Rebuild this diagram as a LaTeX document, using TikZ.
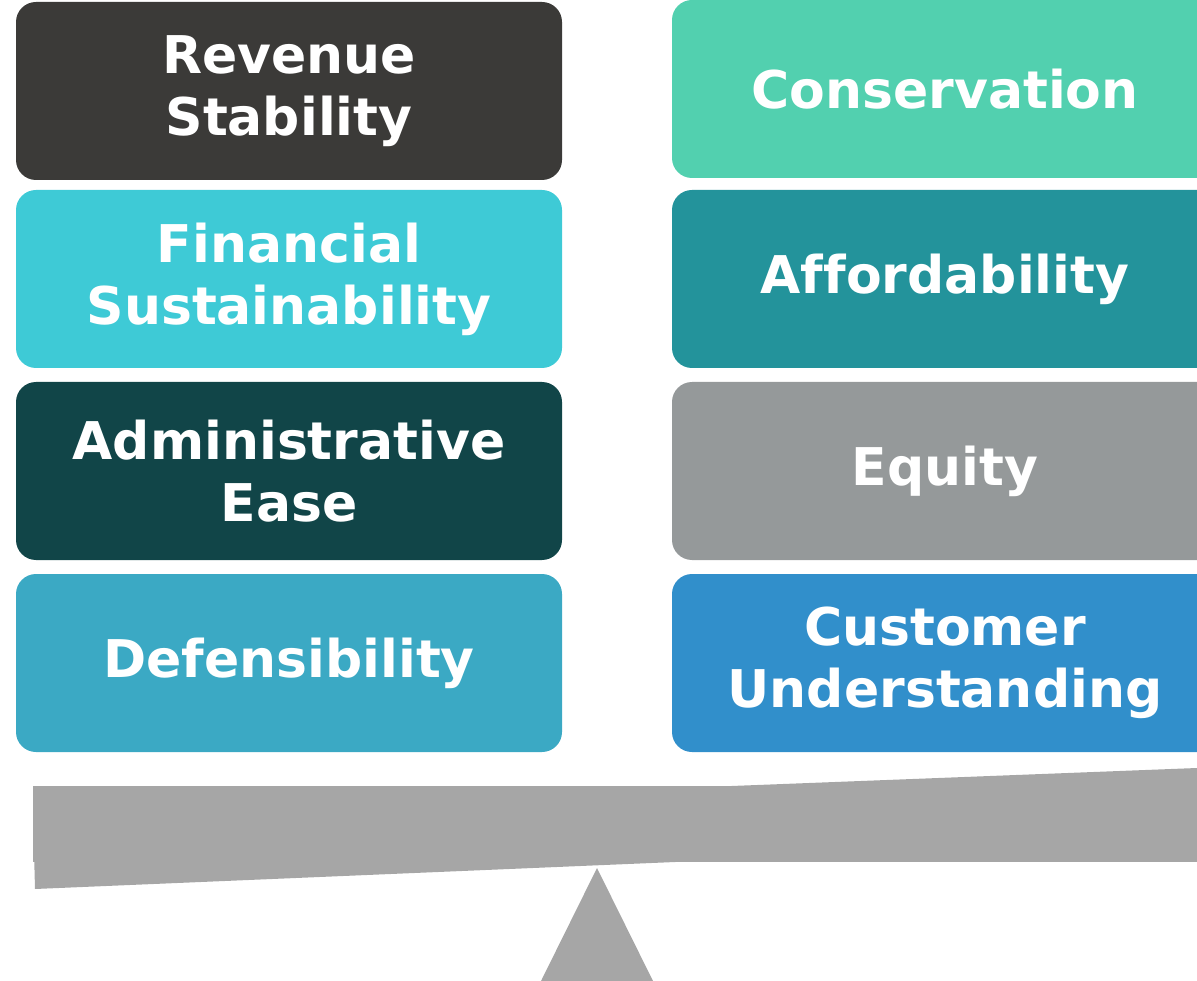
\documentclass[tikz,border=0pt]{standalone}
\usepackage{fontspec}
\setmainfont[Ligatures=NoCommon]{DejaVu Sans}
\begin{document}
\begin{tikzpicture}[x=1pt,y=-1pt,
  box/.style={rounded corners=20pt, minimum width=546pt, minimum height=178pt,
    inner sep=0pt, text=white, align=center,
    font=\fontsize{52}{62}\selectfont\bfseries}]
\definecolor{cRev}{HTML}{3B3A38}
\definecolor{cFin}{HTML}{3ECAD6}
\definecolor{cAdm}{HTML}{114548}
\definecolor{cDef}{HTML}{3BA9C4}
\definecolor{cCon}{HTML}{52D0AF}
\definecolor{cAff}{HTML}{23939B}
\definecolor{cEqu}{HTML}{95999A}
\definecolor{cCus}{HTML}{318FCB}
\definecolor{beamgray}{HTML}{A6A6A6}
\useasboundingbox (0,0) rectangle (1197,981);
\clip (0,0) rectangle (1197,981);
% left column
\node[box, fill=cRev] (rev) at (289,91) {Revenue\\Stability};
\node[box, fill=cFin] (fin) at (289,279) {Financial\\Sustainability};
\node[box, fill=cAdm] (adm) at (289,471) {Administrative\\Ease};
\node[box, fill=cDef] (def) at (289,663) {Defensibility};
% right column
\node[box, fill=cCon] (con) at (945,89) {Conservation};
\node[box, fill=cAff] (aff) at (945,279) {Affordability};
\node[box, fill=cEqu] (equ) at (945,471) {Equity};
\node[box, fill=cCus] (cus) at (945,663) {Customer\\Understanding};
% seesaw
\fill[beamgray] (33,786) rectangle (1197,862);
\fill[beamgray] (33,813) -- (1197,768) -- (1197,840) -- (35,889) -- cycle;
\fill[beamgray] (597,868) -- (653,981) -- (541,981) -- cycle;
\end{tikzpicture}
\end{document}
